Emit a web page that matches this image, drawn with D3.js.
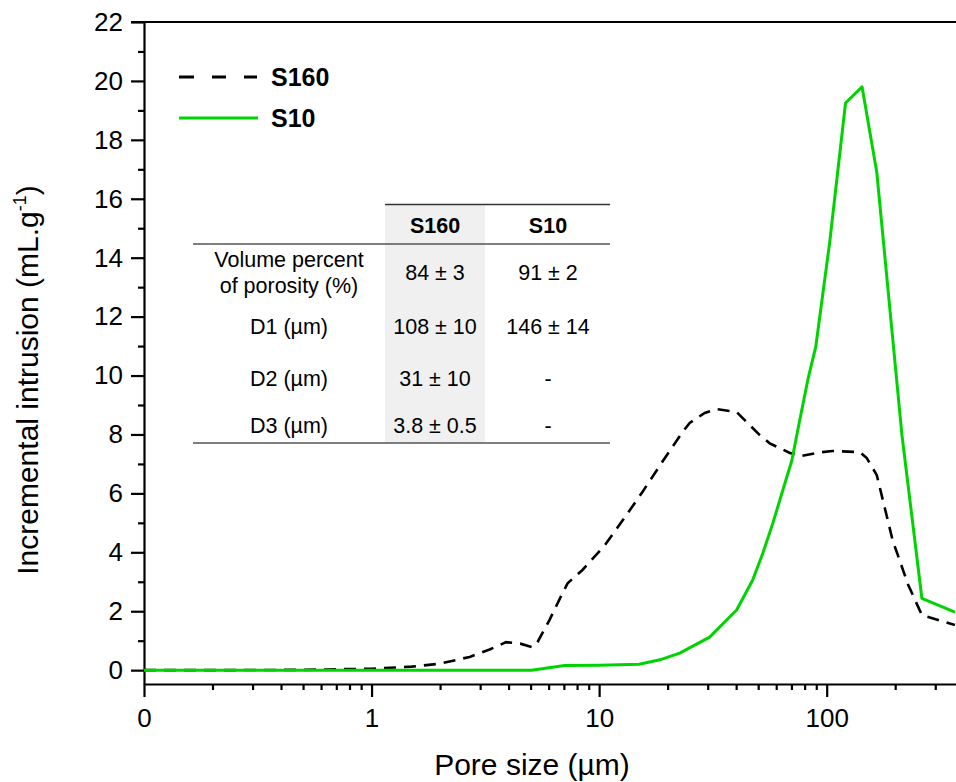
<!DOCTYPE html>
<html><head><meta charset="utf-8">
<script src="https://cdn.jsdelivr.net/npm/d3@7"></script>
<style>body{margin:0;background:#fff}svg{display:block;font-family:Arial,"Liberation Sans",sans-serif}</style>
</head><body>
<svg id="c" width="956" height="782"></svg>
<script>
const s160Size = [0.1,0.2,0.5,1.0,1.5,2.0,2.7,3.3,3.9,4.5,5.1,5.36,6.05,6.84,7.27,8.45,10.6,12.9,15.5,18.8,23.1,25.0,29.1,32.8,40.2,50.8,56.2,68.9,77.7,95,106,140,150,166,195,228,262,366];
const s160Val  = [0,0,0.01,0.05,0.12,0.22,0.45,0.7,0.95,0.9,0.78,0.95,1.7,2.55,2.95,3.4,4.24,5.16,6.05,7.03,8.05,8.39,8.73,8.86,8.76,7.98,7.7,7.37,7.27,7.4,7.44,7.4,7.2,6.62,4.4,2.9,1.87,1.53];
const s10Size = [0.1,1,5.05,7.05,10,15,18.5,22.6,30.6,40.2,47.3,52.4,58.0,64.1,70.2,76.2,82.6,89.5,103,121,143,166,214,262,366];
const s10Val  = [0,0,0,0.16,0.17,0.2,0.35,0.58,1.12,2.04,3.06,3.97,4.99,6.1,7.1,8.5,9.85,10.97,14.5,19.25,19.8,16.9,8.0,2.44,1.97];
const seriesNames = ["S160","S10"];
const xTickVals = [0.1,1,10,100];
const xTickLabels = ["0","1","10","100"];
const yTickVals = [0,2,4,6,8,10,12,14,16,18,20,22];
const tableCols = ["S160","S10"];
const tableRows = [["Volume percent","of porosity (%)"],["D1 (µm)"],["D2 (µm)"],["D3 (µm)"]];
const tableS160 = ["84 ± 3","108 ± 10","31 ± 10","3.8 ± 0.5"];
const tableS10 = ["91 ± 2","146 ± 14","-","-"];

const svg = d3.select("#c");
const L=144, R=956, T=22, B=684;
const x = d3.scaleLog().domain([0.1,370]).range([L,R]);
const y = d3.scaleLinear().domain([-0.47,22]).range([B,T]);

const xMinor=[];
[0.1,1,10,100].forEach(d=>{for(let k=2;k<=9;k++){const v=d*k; if(v<=370) xMinor.push(v);}});
const yMinor=d3.range(1,22,2);

const g=svg.append("g");
const xa=g.append("g").attr("transform",`translate(0,${B})`)
  .call(d3.axisBottom(x).tickValues(xTickVals).tickFormat((d,i)=>xTickLabels[i]).tickSize(13).tickPadding(12).tickSizeOuter(0));
g.append("g").attr("transform",`translate(0,${B})`)
  .call(d3.axisBottom(x).tickValues(xMinor).tickFormat("").tickSize(6).tickSizeOuter(0))
  .call(s=>s.select(".domain").remove());
const ya=g.append("g").attr("transform",`translate(${L},0)`)
  .call(d3.axisLeft(y).tickValues(yTickVals).tickSize(13).tickPadding(8).tickSizeOuter(0));
g.append("g").attr("transform",`translate(${L},0)`)
  .call(d3.axisLeft(y).tickValues(yMinor).tickFormat("").tickSize(6).tickSizeOuter(0))
  .call(s=>s.select(".domain").remove());
g.selectAll(".domain").attr("stroke","#000").attr("stroke-width",2.2);
g.selectAll(".tick line").attr("stroke","#000").attr("stroke-width",2.2);
g.selectAll(".tick text").attr("font-size",26).attr("fill","#000").attr("font-family","Arial, Liberation Sans");
g.append("line").attr("x1",L-13).attr("x2",R).attr("y1",y(22)).attr("y2",y(22)).attr("stroke","#000").attr("stroke-width",2.2);

svg.append("text").attr("x",532).attr("y",775).attr("text-anchor","middle").attr("font-size",30).text("Pore size (µm)");
const yt=svg.append("text").attr("transform","translate(38,380) rotate(-90)").attr("text-anchor","middle").attr("font-size",30);
yt.append("tspan").text("Incremental intrusion (mL.g");
yt.append("tspan").attr("font-size",18).attr("dy",-12).text("-1");
yt.append("tspan").attr("dy",12).text(")");

const tg=svg.append("g").attr("font-size",21.5).attr("fill","#000");
tg.append("rect").attr("x",385).attr("y",205).attr("width",100).attr("height",238).attr("fill","#f0f0f0");
tg.append("line").attr("x1",385).attr("x2",610).attr("y1",204.5).attr("y2",204.5).attr("stroke","#333").attr("stroke-width",1.3);
tg.append("line").attr("x1",193).attr("x2",610).attr("y1",244).attr("y2",244).attr("stroke","#555").attr("stroke-width",1.6);
tg.append("line").attr("x1",193).attr("x2",610).attr("y1",443).attr("y2",443).attr("stroke","#555").attr("stroke-width",1.6);
const colX=[435,548], rowY=[272,326,378,425];
tableCols.forEach((c,i)=>tg.append("text").attr("x",colX[i]).attr("y",225).attr("dy","0.35em").attr("text-anchor","middle").attr("font-weight","bold").text(c));
tableRows.forEach((r,i)=>{
  r.forEach((line,j)=>tg.append("text").attr("x",289).attr("y",rowY[i]+(j-(r.length-1)/2)*26).attr("dy","0.35em").attr("text-anchor","middle").text(line));
  tg.append("text").attr("x",colX[0]).attr("y",rowY[i]).attr("dy","0.35em").attr("text-anchor","middle").text(tableS160[i]);
  tg.append("text").attr("x",colX[1]).attr("y",rowY[i]).attr("dy","0.35em").attr("text-anchor","middle").text(tableS10[i]);
});

const line=d3.line().x(d=>x(d[0])).y(d=>y(d[1]));
const d160=s160Size.map((s,i)=>[s,s160Val[i]]);
const d10=s10Size.map((s,i)=>[s,s10Val[i]]);
svg.append("path").datum(d160).attr("d",line).attr("fill","none").attr("stroke","#000").attr("stroke-width",2.6).attr("stroke-dasharray","12,8");
svg.append("path").datum(d10).attr("d",line).attr("fill","none").attr("stroke","#00d400").attr("stroke-width",3).attr("stroke-linejoin","round");

const lg=svg.append("g");
lg.append("line").attr("x1",179).attr("x2",258).attr("y1",77).attr("y2",77).attr("stroke","#000").attr("stroke-width",2.8).attr("stroke-dasharray","15,18,14,18,13");
lg.append("line").attr("x1",179).attr("x2",258).attr("y1",118).attr("y2",118).attr("stroke","#00d400").attr("stroke-width",3);
lg.append("text").attr("x",271).attr("y",77).attr("dy","0.35em").attr("font-size",25).attr("font-weight","bold").text(seriesNames[0]);
lg.append("text").attr("x",271).attr("y",118).attr("dy","0.35em").attr("font-size",25).attr("font-weight","bold").text(seriesNames[1]);
</script>
</body></html>
